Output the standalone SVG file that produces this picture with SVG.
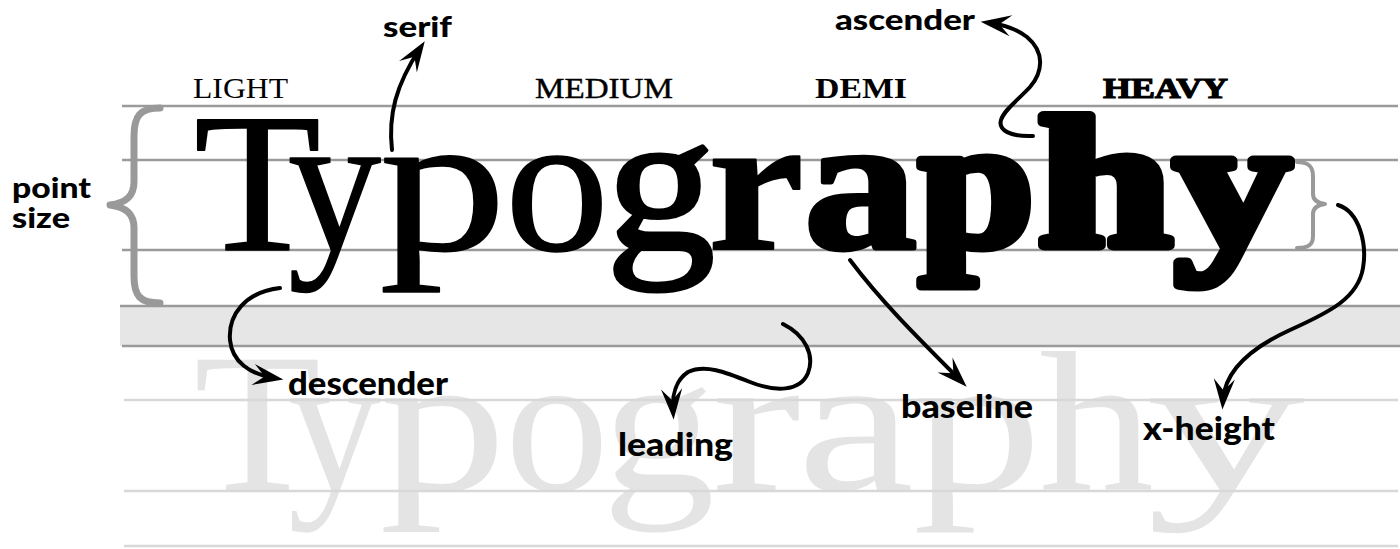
<svg xmlns="http://www.w3.org/2000/svg" width="1400" height="549" viewBox="0 0 1400 549">
<style>
.rule{stroke:#9a9a9a;stroke-width:2.5}
.rule2{stroke:#d8d8d8;stroke-width:2.5}
.lab{font-family:Lato,"DejaVu Sans",sans-serif;font-weight:900;fill:#000}
.wt{font-family:"Liberation Serif",serif;font-size:29px;fill:#000}
.serif{font-family:"Liberation Serif",serif}
.lt{font-size:200px;fill:#000;stroke:#000;stroke-width:1.5;stroke-linejoin:round}
.md{font-size:200px;fill:#000;stroke:#000;stroke-width:4;stroke-linejoin:round}
.hv{font-weight:bold;fill:#000;stroke:#000;stroke-linejoin:round}
.ghost{font-size:200px;fill:#e4e4e4}
.brace{fill:none;stroke:#999;stroke-linecap:round;stroke-linejoin:round}
.arr{fill:none;stroke:#000;stroke-width:4;stroke-linecap:round;marker-end:url(#ah)}
</style>
<defs>
<marker id="ah" markerUnits="userSpaceOnUse" orient="auto" refX="-8" refY="0" markerWidth="40" markerHeight="30" viewBox="-30 -12 34 24" overflow="visible">
<path d="M0,0 L-26,-9 L-16,0 L-26,9 Z" fill="#000"/>
</marker>
</defs>
<rect width="1400" height="549" fill="#fff"/>
<g id="ghost-word" class="serif ghost">
<text x="194" y="490" textLength="127" lengthAdjust="spacingAndGlyphs">T</text>
<text x="288" y="490" textLength="93" lengthAdjust="spacingAndGlyphs">y</text>
<text x="379.5" y="490" textLength="127" lengthAdjust="spacingAndGlyphs">p</text>
<text x="505" y="490" textLength="104" lengthAdjust="spacingAndGlyphs">o</text>
<text x="602" y="490" textLength="113" lengthAdjust="spacingAndGlyphs">g</text>
<text x="712" y="490" textLength="89" lengthAdjust="spacingAndGlyphs">r</text>
<text x="797" y="490" textLength="117" lengthAdjust="spacingAndGlyphs">a</text>
<text x="913" y="490" textLength="129" lengthAdjust="spacingAndGlyphs">p</text>
<text x="1039" y="490" textLength="115" lengthAdjust="spacingAndGlyphs">h</text>
<text x="1146" y="490" textLength="159" lengthAdjust="spacingAndGlyphs">y</text>
</g>
<g id="rules">
<rect x="120" y="306" width="1280" height="40" fill="#e6e6e6"/>
<line class="rule" x1="122" y1="106" x2="1398" y2="106"/>
<line class="rule" x1="122" y1="160" x2="1398" y2="160"/>
<line class="rule" x1="122" y1="250" x2="1398" y2="250"/>
<line class="rule" x1="120" y1="306" x2="1400" y2="306"/>
<line class="rule" x1="122" y1="346" x2="1400" y2="346"/>
<line class="rule2" x1="124" y1="400" x2="1398" y2="400"/>
<line class="rule2" x1="124" y1="491" x2="1398" y2="491"/>
<line class="rule2" x1="124" y1="546" x2="1398" y2="546"/>
</g>
<g id="weights">
<text class="wt" x="193" y="98" textLength="95" lengthAdjust="spacingAndGlyphs">LIGHT</text>
<text class="wt" x="535" y="98" textLength="138" lengthAdjust="spacingAndGlyphs" stroke="#000" stroke-width="0.4">MEDIUM</text>
<text class="wt" x="815" y="98" textLength="92" lengthAdjust="spacingAndGlyphs" font-weight="bold">DEMI</text>
<text class="wt" x="1103" y="98" textLength="125" lengthAdjust="spacingAndGlyphs" font-weight="bold" stroke="#000" stroke-width="1.2">HEAVY</text>
</g>
<g id="word" class="serif">
<text class="lt" x="194" y="250" textLength="127" lengthAdjust="spacingAndGlyphs">T</text>
<text class="lt" x="288" y="250" textLength="93" lengthAdjust="spacingAndGlyphs">y</text>
<text class="lt" x="379.5" y="250" textLength="127" lengthAdjust="spacingAndGlyphs">p</text>
<text class="lt" x="505" y="250" textLength="104" lengthAdjust="spacingAndGlyphs">o</text>
<text class="md" x="606" y="249" textLength="109" lengthAdjust="spacingAndGlyphs">g</text>
<text class="hv" x="708" y="249" font-size="196" stroke-width="2" textLength="96" lengthAdjust="spacingAndGlyphs">r</text>
<text class="hv" x="804" y="247.5" font-size="192" stroke-width="5" textLength="113" lengthAdjust="spacingAndGlyphs">a</text>
<text class="hv" x="918.5" y="246" font-size="186" stroke-width="9" textLength="116" lengthAdjust="spacingAndGlyphs">p</text>
<text class="hv" x="1038" y="246" font-size="186" stroke-width="10" textLength="134" lengthAdjust="spacingAndGlyphs">h</text>
<text class="hv" x="1174" y="246" font-size="186" stroke-width="10" textLength="117" lengthAdjust="spacingAndGlyphs">y</text>
</g>
<g id="point-size">
<path class="brace" stroke-width="7" d="M160,108 C140,108 134,116 134,136 L134,182 C134,196 126,203 110,205 C126,207 134,214 134,228 L134,276 C134,296 140,303 160,303"/>
<text class="lab" x="12" y="198" font-size="28" textLength="79" lengthAdjust="spacingAndGlyphs">point</text>
<text class="lab" x="12" y="228" font-size="28" textLength="58" lengthAdjust="spacingAndGlyphs">size</text>
</g>
<g id="x-height-brace">
<path class="brace" stroke-width="4" d="M1297,162 C1308,162 1313,166 1313,176 L1313,194 C1313,200 1317,203 1325,204 C1317,205 1313,208 1313,214 L1313,236 C1313,245 1308,248 1297,248"/>
</g>
<g id="label-serif"><text class="lab" x="383" y="37" font-size="28" textLength="69" lengthAdjust="spacingAndGlyphs">serif</text></g>
<g id="label-ascender"><text class="lab" x="835" y="30" font-size="28" textLength="140" lengthAdjust="spacingAndGlyphs">ascender</text></g>
<g id="label-descender"><text class="lab" x="288" y="395" font-size="32" textLength="160" lengthAdjust="spacingAndGlyphs">descender</text></g>
<g id="label-leading"><text class="lab" x="618" y="456" font-size="32" textLength="115" lengthAdjust="spacingAndGlyphs">leading</text></g>
<g id="label-baseline"><text class="lab" x="901" y="418" font-size="32" textLength="132" lengthAdjust="spacingAndGlyphs">baseline</text></g>
<g id="label-x-height"><text class="lab" x="1143" y="440" font-size="32" textLength="132" lengthAdjust="spacingAndGlyphs">x-height</text></g>
<g id="connectors">
<path class="arr" d="M392,150 C388,115 396,85 419.6,49"/>
<path class="arr" d="M1033,136 C1010,137 998,130 1001,120 C1004,110 1018,100 1030,87 C1043,72 1045,52 1027,37 C1018,30 1005,25 990,23"/>
<path class="arr" d="M280,288 C245,292 228,315 230,340 C232,362 250,374 274,378"/>
<path class="arr" d="M783,324 C805,335 815,355 808,373 C800,392 775,392 750,382 C725,372 705,364 688,372 C676,380 672,395 673,410"/>
<path class="arr" d="M850,260 C880,300 915,335 960,380"/>
<path class="arr" d="M1338,205 C1360,212 1367,245 1363,268 C1358,298 1330,312 1290,330 C1255,346 1225,368 1223,400"/>
</g>
</svg>
